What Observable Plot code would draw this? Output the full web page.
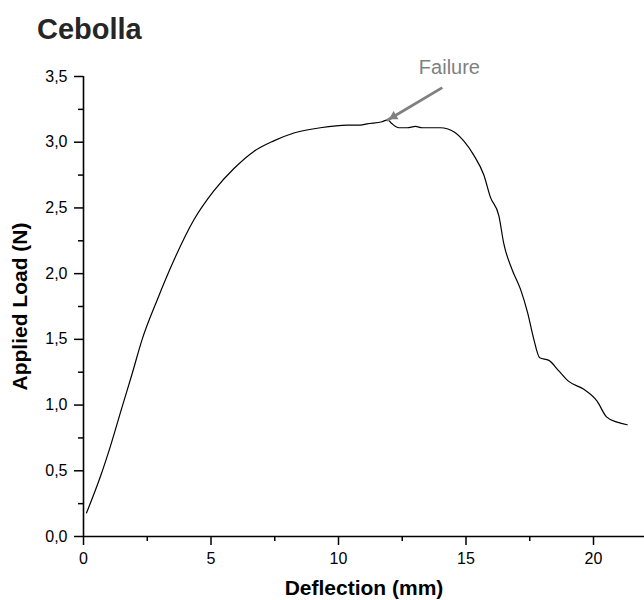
<!DOCTYPE html>
<html>
<head>
<meta charset="utf-8">
<script src="https://cdn.jsdelivr.net/npm/d3@7"></script>
<script src="https://cdn.jsdelivr.net/npm/@observablehq/plot@0.6"></script>
<style>
  html, body { margin: 0; padding: 0; background: #fff; }
  #title { height: 50px; box-sizing: border-box; padding-top: 15px; padding-left: 37px;
           font: bold 29px "Liberation Sans", Arial, sans-serif; line-height: 1; color: #262626; }
  g[aria-label="x-axis label"], g[aria-label="y-axis label"] { font-weight: bold; font-size: 21px; }
  g[aria-label="x-axis tick label"], g[aria-label="y-axis tick label"] { font-size: 16px; }
</style>
</head>
<body>
<div id="title">Cebolla</div>
<div id="chart"></div>
<script>
// Data
const deflection = [0.12, 0.67, 1.06, 1.52, 1.91, 2.30, 2.89, 3.54, 4.33, 5.11, 5.90, 6.68, 7.46, 8.25, 9.29, 10.34, 10.86, 11.12, 11.71, 11.93, 12.10, 12.37, 12.69, 13.02, 13.28, 14.00, 14.52, 14.91, 15.31, 15.70, 15.96, 16.29, 16.48, 16.81, 17.14, 17.42, 17.66, 17.89, 18.25, 18.64, 19.03, 19.62, 20.14, 20.51, 20.93, 21.32];
const load       = [0.18, 0.46, 0.69, 0.99, 1.24, 1.50, 1.80, 2.10, 2.41, 2.63, 2.80, 2.93, 3.01, 3.07, 3.11, 3.13, 3.13, 3.14, 3.156, 3.17, 3.14, 3.11, 3.11, 3.12, 3.11, 3.11, 3.08, 3.01, 2.90, 2.75, 2.58, 2.44, 2.23, 2.03, 1.88, 1.70, 1.50, 1.36, 1.34, 1.26, 1.18, 1.12, 1.03, 0.91, 0.87, 0.85];

const xMajorTicks = [0, 5, 10, 15, 20];
const xMinorTicks = [2.5, 7.5, 12.5, 17.5];
const yMajorTicks = [0, 0.5, 1.0, 1.5, 2.0, 2.5, 3.0, 3.5];
const yMinorTicks = [0.25, 0.75, 1.25, 1.75, 2.25, 2.75, 3.25];

const xLabel = "Deflection (mm)";
const yLabel = "Applied Load (N)";

const annotationText = ["Failure"];
const annotationX = [14.35];
const annotationY = [3.52];
const arrowFrom = [[14.07, 3.415]];
const arrowTo = [[11.90, 3.165]];

const data = deflection.map((d, i) => ({x: d, y: load[i]}));
const comma = d => d.toFixed(1).replace(".", ",");

const chart = Plot.plot({
  width: 644,
  height: 550,
  marginLeft: 83,
  marginRight: 0,
  marginTop: 26,
  marginBottom: 64,
  style: {fontFamily: "'Liberation Sans', Arial, sans-serif", color: "#000", background: "#fff", overflow: "visible"},
  x: {domain: [0, 22]},
  y: {domain: [0, 3.5]},
  marks: [
    Plot.axisX({ticks: xMinorTicks, tickSize: 5, tickFormat: () => "", label: null, strokeWidth: 1.5}),
    Plot.axisX({ticks: xMajorTicks, tickSize: 9, tickPadding: 7, tickFormat: d => String(d), fontSize: 16,
      strokeWidth: 1.5, label: xLabel, labelAnchor: "center", labelOffset: 58, labelArrow: "none"}),
    Plot.axisY({ticks: yMinorTicks, tickSize: 5, tickFormat: () => "", label: null, strokeWidth: 1.5}),
    Plot.axisY({ticks: yMajorTicks, tickSize: 9, tickPadding: 7, tickFormat: comma, fontSize: 16,
      strokeWidth: 1.5, label: yLabel, labelAnchor: "center", labelOffset: 71, labelArrow: "none"}),
    Plot.ruleY([0], {stroke: "#000", strokeWidth: 1.6}),
    Plot.ruleX([0], {stroke: "#000", strokeWidth: 1.6}),
    Plot.line(data, {x: "x", y: "y", stroke: "#000", strokeWidth: 1.2, curve: "monotone-x"}),
    Plot.link(arrowFrom, {x1: d => d[0], y1: d => d[1], x2: (d, i) => arrowTo[i][0], y2: (d, i) => arrowTo[i][1],
      stroke: "#808080", strokeWidth: 2.8}),
    Plot.dot(arrowTo, {x: d => d[0], y: d => d[1], symbol: "triangle2", r: 4.6, rotate: 239.5,
      dx: 6.7, dy: -4.0, fill: "#808080", stroke: "none"}),
    Plot.text(annotationText, {x: (d, i) => annotationX[i], y: (d, i) => annotationY[i], text: d => d,
      fill: "#808080", fontSize: 20, lineAnchor: "bottom", textAnchor: "middle"})
  ]
});
document.getElementById("chart").appendChild(chart);
</script>
</body>
</html>
